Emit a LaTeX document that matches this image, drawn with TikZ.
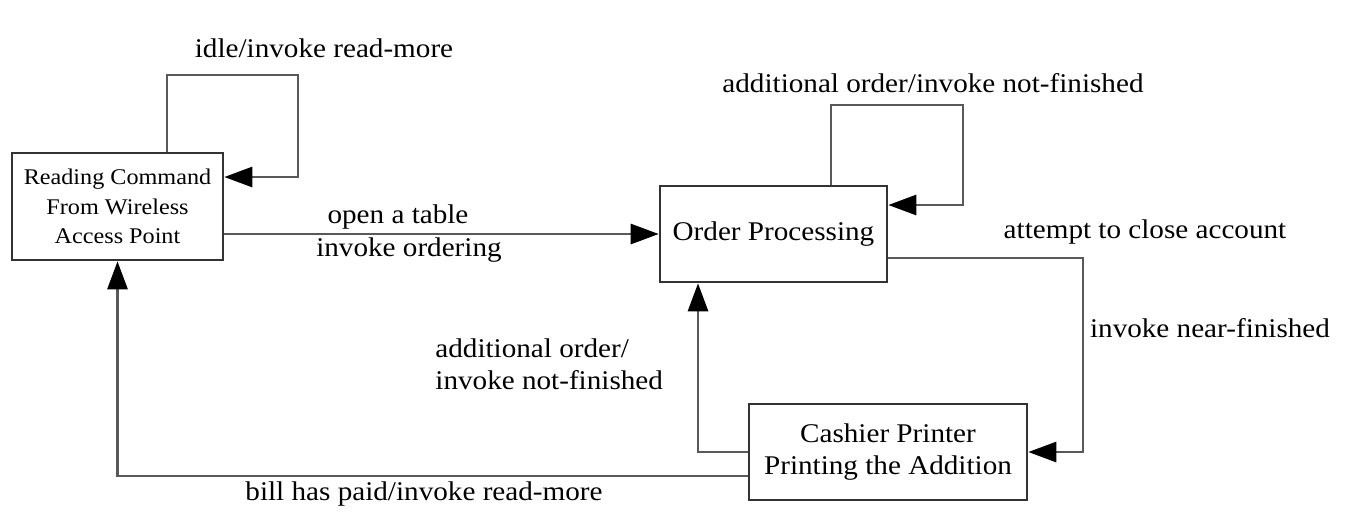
\documentclass[tikz,border=0pt]{standalone}
\usepackage{fontspec}
\setmainfont{Liberation Serif}[FakeStretch=1.08]
\usetikzlibrary{arrows.meta}
\begin{document}
\begin{tikzpicture}[x=0.5pt,y=-0.5pt,
  state/.style={draw=black!80,line width=1.3pt,fill=white,inner sep=0pt,align=center,
    font=\fontsize{13.5}{16}\selectfont},
  conn/.style={draw=black!65,line width=1.4pt,
    -{Triangle[length=14pt,width=10pt,color=black]}},
  lbl/.style={inner sep=0pt,font=\fontsize{13.5}{15}\selectfont}]
\useasboundingbox (0,0) rectangle (1347,511);

% states
\node[state,minimum width=105.5pt,minimum height=53.5pt,
  font=\fontsize{11.2}{14.6}\selectfont] (A) at (117.5,206.5)
  {Reading Command\\From Wireless\\Access Point};
\node[state,minimum width=113.5pt,minimum height=48pt] (B) at (773.5,234) {Order Processing};
\node[state,minimum width=139pt,minimum height=48pt] (C) at (888,452)
  {Cashier Printer\\Printing the Addition};

% bend points
\coordinate (aTL) at (167,75);
\coordinate (aTR) at (298,75);
\coordinate (aR) at (298,177);
\coordinate (bTL) at (831,105);
\coordinate (bTR) at (963,105);
\coordinate (bR) at (963,205);
\coordinate (bc1) at (1083,258);
\coordinate (bc2) at (1083,452);
\coordinate (cb) at (698,452);
\coordinate (ca) at (118,476);

% transitions
\draw[conn] (A.north -| aTL) |- (aTR) |- (A.east |- aR);
\draw[conn] (A.east |- B.west) -- (B.west);
\draw[conn] (B.north -| bTL) |- (bTR) |- (B.east |- bR);
\draw[conn] (B.east |- bc1) -| (bc2) -- (C.east);
\draw[conn] (C.west) -| (B.south -| cb);
\draw[conn] (C.west |- ca) -| (A.south);

% labels
\node[lbl] (l1) at (324,48) {idle/invoke read-more};
\node[lbl] (l2) at (398,217) {open a table};
\node[lbl] (l3) at (409,250) {invoke ordering};
\node[lbl] (l4) at (933,83) {additional order/invoke not-finished};
\node[lbl] (l5) at (1145,232) {attempt to close account};
\node[lbl] (l6) at (1210,328) {invoke near-finished};
\node[lbl,anchor=west,align=left,font=\fontsize{13.5}{16}\selectfont] (l7) at (435,364)
  {additional order/\\invoke not-finished};
\node[lbl] (l8) at (424,494) {bill has paid/invoke read-more};
\end{tikzpicture}
\end{document}
